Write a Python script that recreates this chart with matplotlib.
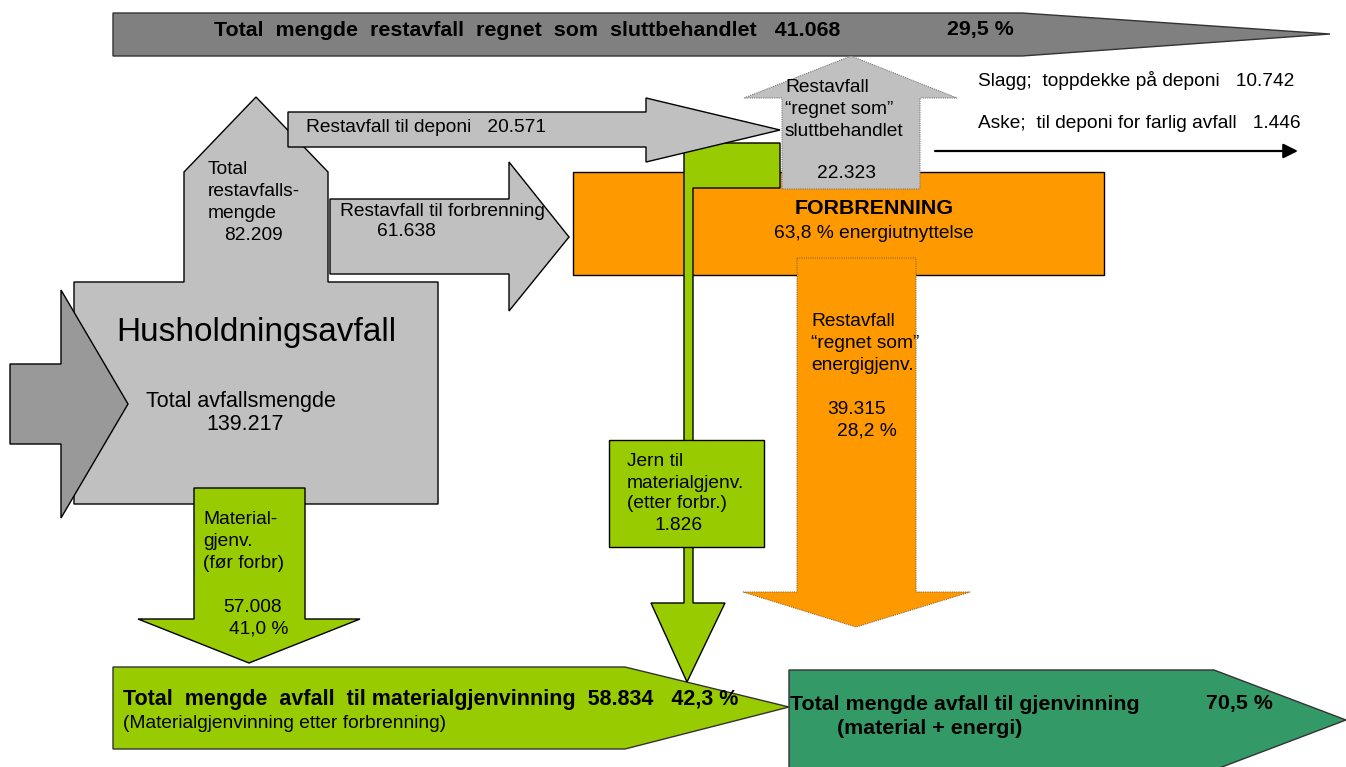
import matplotlib
matplotlib.use("Agg")
import matplotlib.pyplot as plt
from matplotlib.patches import Polygon

plt.rcParams['font.family'] = ['Liberation Sans', 'DejaVu Sans']

# ---------------- data ----------------
flow_keys = ["total", "rest", "deponi", "forbr", "mat_for", "slutt", "energi",
             "jern", "mat_total", "slutt_total", "slagg", "aske"]
flow_amounts = ["139.217", "82.209", "20.571", "61.638", "57.008", "22.323",
                "39.315", "1.826", "58.834", "41.068", "10.742", "1.446"]
share_keys = ["mat_for", "energi", "mat_total", "slutt_total", "gjenv_total", "energiutnytt"]
share_values = ["41,0 %", "28,2 %", "42,3 %", "29,5 %", "70,5 %", "63,8 %"]

amt = dict(zip(flow_keys, flow_amounts))
pct = dict(zip(share_keys, share_values))

# ---------------- styles ----------------
C_DARK = "#808080"
C_MID = "#999999"
C_LIGHT = "#C0C0C0"
C_ORANGE = "#FF9900"
C_LIME = "#99CC00"
C_GREEN = "#339966"
FS = 13.8
FSB = 15.4

fig = plt.figure(figsize=(13.46, 7.67), dpi=100)
ax = fig.add_axes([0, 0, 1, 1])
ax.set_xlim(0, 1346)
ax.set_ylim(767, 0)
ax.axis("off")


def shape(pts, fc, z, ec="black", lw=1.0, ls="-"):
    ax.add_patch(Polygon(pts, closed=True, facecolor=fc, edgecolor=ec,
                         lw=lw, ls=ls, zorder=z, joinstyle="miter"))


def rect(x0, y0, x1, y1, fc, z, ec="black", lw=1.0):
    shape([(x0, y0), (x1, y0), (x1, y1), (x0, y1)], fc, z, ec, lw)


def txt(x, y, s, size=FS, weight="normal", ha="left", z=20):
    ax.text(x, y, s, fontsize=size, fontweight=weight, ha=ha, va="center", zorder=z)


# ---------------- layout (geometry) ----------------
# top: total sluttbehandlet
shape([(113, 13), (1022, 13), (1330, 34), (1022, 56), (113, 56)], C_DARK, 1, ec="#333333")
# house: Husholdningsavfall + restavfall column
shape([(74, 504), (74, 282), (184, 282), (184, 172), (256, 97), (328, 172),
       (328, 282), (438, 282), (438, 504)], C_LIGHT, 1)
# input arrow
shape([(10, 364), (61, 364), (61, 290), (128, 404), (61, 518), (61, 444), (10, 444)], C_MID, 2)
# material (før forbr) arrow
shape([(194, 488), (305, 488), (305, 619), (360, 619), (249, 663), (138, 619), (194, 619)], C_LIME, 2)
# restavfall til forbrenning arrow
shape([(330, 199), (509, 199), (509, 162), (569, 237), (509, 311), (509, 274), (330, 274)], C_LIGHT, 2)
# FORBRENNING box
rect(573, 172, 1104, 275, C_ORANGE, 2)
# energigjenv. down arrow (dotted edge)
shape([(797, 258), (916, 258), (916, 592), (970, 592), (856, 627), (743, 592), (797, 592)],
      C_ORANGE, 3, ec="#8a6a3a", lw=0.8, ls=(0, (1, 1)))
# bottom lime arrow
shape([(113, 667), (625, 667), (789, 707), (625, 749), (113, 749)], C_LIME, 3, ec="#333333")
# bottom green arrow
shape([(789, 670), (1214, 670), (1346, 720), (1214, 770), (789, 770)], C_GREEN, 3, ec="#333333")
# jern L-shaped flow
shape([(684, 143), (780, 143), (780, 188), (693, 188), (693, 603), (725, 603),
       (687, 682), (651, 603), (684, 603)], C_LIME, 4)
rect(609, 440, 764, 547, C_LIME, 5)
# restavfall til deponi arrow
shape([(288, 112), (646, 112), (646, 98), (780, 130), (646, 162), (646, 147), (288, 147)], C_LIGHT, 6)
# sluttbehandlet up arrow (dotted edge)
shape([(782, 189), (782, 98), (744, 98), (851, 56), (957, 98), (920, 98), (920, 189)],
      C_LIGHT, 6, ec="#777777", lw=0.8, ls=(0, (1, 1)))

# slagg/aske arrow
ax.annotate("", xy=(1298, 151), xytext=(935, 151),
            arrowprops=dict(arrowstyle="-|>", lw=1.6, color="black", mutation_scale=22,
                            shrinkA=0, shrinkB=0), zorder=10)

# ---------------- texts ----------------
txt(214, 30, f"Total  mengde  restavfall  regnet  som  sluttbehandlet   {amt['slutt_total']}",
    size=FSB, weight="bold")
txt(947, 30, pct["slutt_total"], size=FSB, weight="bold")

txt(978, 80, f"Slagg;  toppdekke på deponi   {amt['slagg']}")
txt(978, 123, f"Aske;  til deponi for farlig avfall   {amt['aske']}")

txt(785, 88, "Restavfall")
txt(785, 109, "\u201cregnet som\u201d")
txt(785, 131, "sluttbehandlet")
txt(846, 173, amt["slutt"], ha="center")

txt(306, 128, f"Restavfall til deponi   {amt['deponi']}")

txt(208, 170, "Total")
txt(208, 192, "restavfalls-")
txt(208, 213, "mengde")
txt(224, 235, amt["rest"])

txt(340, 212, "Restavfall til forbrenning")
txt(377, 232, amt["forbr"])

txt(874, 209, "FORBRENNING", size=FSB, weight="bold", ha="center")
txt(874, 233, f"{pct['energiutnytt']} energiutnyttelse", ha="center")

txt(256, 332, "Husholdningsavfall", size=24, ha="center")
txt(241, 401, "Total avfallsmengde", size=15.5, ha="center")
txt(245, 424, amt["total"], size=15.5, ha="center")

txt(811, 322, "Restavfall")
txt(811, 344, "\u201cregnet som\u201d")
txt(811, 366, "energigjenv.")
txt(827, 409, amt["energi"])
txt(837, 431, pct["energi"])

txt(627, 461, "Jern til")
txt(627, 483, "materialgjenv.")
txt(627, 504, "(etter forbr.)")
txt(654, 525, amt["jern"])

txt(203, 520, "Material-")
txt(203, 542, "gjenv.")
txt(203, 563, "(før forbr)")
txt(223, 607, amt["mat_for"])
txt(229, 629, pct["mat_for"])

txt(123, 700, f"Total  mengde  avfall  til materialgjenvinning  {amt['mat_total']}   {pct['mat_total']}",
    size=15.5, weight="bold")
txt(123, 724, "(Materialgjenvinning etter forbrenning)")

txt(790, 704, "Total mengde avfall til gjenvinning", size=FSB, weight="bold")
txt(837, 729, "(material + energi)", size=FSB, weight="bold")
txt(1206, 704, pct["gjenv_total"], size=FSB, weight="bold")

fig.savefig("out.png", dpi=100)
